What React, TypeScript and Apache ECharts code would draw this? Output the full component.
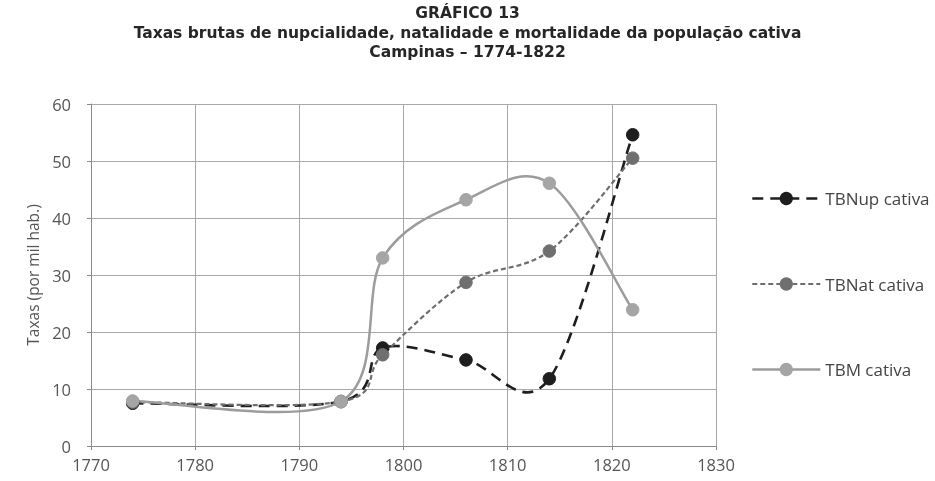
import React, { useEffect, useRef } from "react";
import * as echarts from "echarts";

const years = [1774, 1794, 1798, 1806, 1814, 1822];
const tbnup = [7.5, 7.8, 17.2, 15.1, 11.8, 54.6];
const tbnat = [7.7, 7.8, 16.0, 28.7, 34.2, 50.5];
const tbm = [7.9, 7.8, 33.0, 43.2, 46.1, 23.9];
const seriesNames = ["TBNup cativa", "TBNat cativa", "TBM cativa"];
const titleLines = [
  "GRÁFICO 13",
  "Taxas brutas de nupcialidade, natalidade e mortalidade da população cativa",
  "Campinas – 1774-1822",
];
const yAxisName = "Taxas (por mil hab.)";

const pair = (vals: number[]) => years.map((y, i) => [y, vals[i]]);

// Excel-like smoothed curve (Catmull-Rom in pixel space), points via the axes' scale
function curveRenderer(vals: number[], style: any) {
  return (params: any, api: any) => {
    if (params.dataIndex !== 0) return null;
    const pts = years.map((y, i) => api.coord([y, vals[i]]));
    let d = `M${pts[0][0]},${pts[0][1]}`;
    for (let i = 0; i < pts.length - 1; i++) {
      const p0 = pts[Math.max(0, i - 1)];
      const p1 = pts[i];
      const p2 = pts[i + 1];
      const p3 = pts[Math.min(pts.length - 1, i + 2)];
      const c1x = p1[0] + (p2[0] - p0[0]) / 6;
      const c1y = p1[1] + (p2[1] - p0[1]) / 6;
      const c2x = p2[0] - (p3[0] - p1[0]) / 6;
      const c2y = p2[1] - (p3[1] - p1[1]) / 6;
      d += ` C${c1x},${c1y} ${c2x},${c2y} ${p2[0]},${p2[1]}`;
    }
    return {
      type: "path",
      shape: { pathData: d },
      style: { fill: "none", ...style },
      silent: true,
    };
  };
}

export default function App() {
  const ref = useRef<HTMLDivElement>(null);
  useEffect(() => {
    if (!ref.current) return;
    const chart = echarts.init(ref.current, undefined, { renderer: "svg" });
    const font = "'Open Sans', 'Noto Sans', sans-serif";
    const titleFont = "'DejaVu Sans', sans-serif";
    const defs = [
      { vals: tbnup, color: "#1e1e1e", dash: [11, 7], width: 2.6, marker: "#1e1e1e" },
      { vals: tbnat, color: "#6e6e6e", dash: [5, 3], width: 2.2, marker: "#6f6f6f" },
      { vals: tbm, color: "#9c9c9c", dash: null as any, width: 2.5, marker: "#a5a5a5" },
    ];
    const curveSeries = defs.map((d, i) => ({
      name: seriesNames[i] + " curve",
      type: "custom",
      data: pair(d.vals),
      encode: { x: 0, y: 1 },
      z: 2 + i * 0.1,
      renderItem: curveRenderer(d.vals, {
        stroke: d.color,
        lineWidth: d.width,
        lineDash: d.dash,
      }),
    }));
    const markerSeries = defs.map((d, i) => ({
      name: seriesNames[i],
      type: "line",
      data: pair(d.vals),
      symbol: "circle",
      symbolSize: 12.5,
      z: 3 + i * 0.1,
      lineStyle: { opacity: 0, color: d.color },
      itemStyle: { color: d.marker, borderColor: d.marker, borderWidth: 1 },
      emphasis: { disabled: true },
    }));
    const titleTops = [5, 24.5, 44];
    chart.setOption({
      animation: false,
      textStyle: { fontFamily: font },
      title: titleLines.map((t, i) => ({
        text: t,
        left: "center",
        top: titleTops[i],
        padding: [0, 0, 0, 12],
        textStyle: {
          fontFamily: titleFont,
          fontSize: 15.5,
          fontWeight: "bold",
          color: "#262626",
        },
      })),
      grid: { left: 91, right: 219, top: 104, bottom: 35 },
      legend: {
        orient: "vertical",
        left: 751,
        top: 190,
        padding: 0,
        itemWidth: 68,
        itemHeight: 14,
        itemGap: 68.5,
        data: defs.map((d, i) => ({
          name: seriesNames[i],
          lineStyle: {
            opacity: 1,
            color: d.color,
            width: d.width,
            type: d.dash || "solid",
          },
          itemStyle: { color: d.marker },
        })),
        textStyle: { fontFamily: font, fontSize: 17, color: "#444" },
      },
      xAxis: {
        type: "value",
        min: 1770,
        max: 1830,
        interval: 10,
        axisLine: { show: true, lineStyle: { color: "#8a8a8a", width: 1 } },
        axisTick: { show: true, length: 4, lineStyle: { color: "#8a8a8a" } },
        axisLabel: {
          color: "#555",
          fontSize: 16.5,
          margin: 10,
          fontFamily: font,
          formatter: (v: number) => String(v),
        },
        splitLine: { show: true, lineStyle: { color: "#a8a8a8", width: 1 } },
      },
      yAxis: {
        type: "value",
        min: 0,
        max: 60,
        interval: 10,
        name: yAxisName,
        nameLocation: "middle",
        nameGap: 28,
        nameTextStyle: { color: "#555", fontSize: 15.5, fontFamily: font },
        axisLine: { show: true, lineStyle: { color: "#8a8a8a", width: 1 } },
        axisTick: { show: true, length: 4, lineStyle: { color: "#8a8a8a" } },
        axisLabel: { color: "#555", fontSize: 16.5, margin: 20, fontFamily: font },
        splitLine: { show: true, lineStyle: { color: "#a8a8a8", width: 1 } },
      },
      series: [...markerSeries, ...curveSeries],
    });
    return () => chart.dispose();
  }, []);
  return (
    <div
      ref={ref}
      style={{ position: "fixed", left: 0, top: 0, width: 935, height: 481 }}
    />
  );
}
